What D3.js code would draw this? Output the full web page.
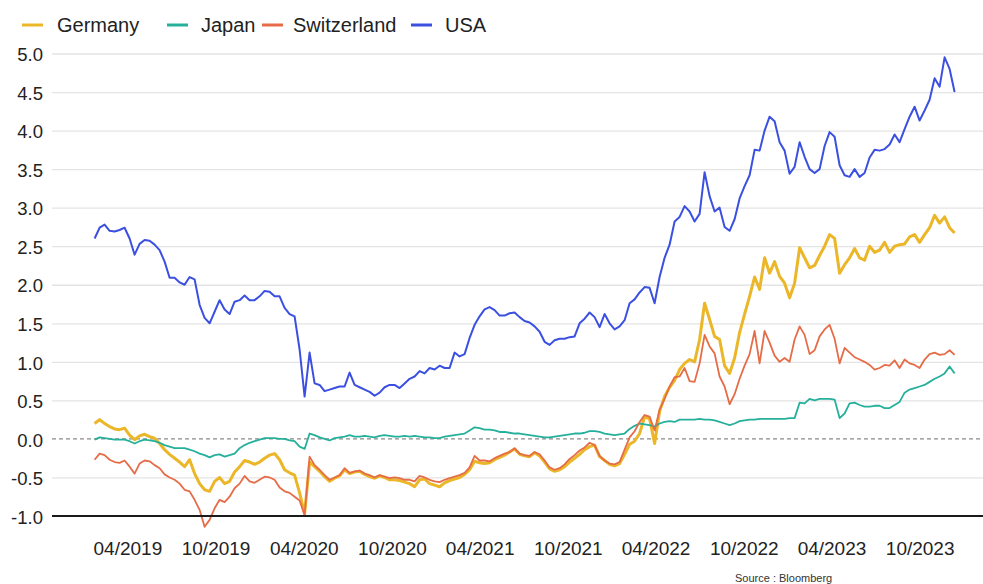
<!DOCTYPE html>
<html>
<head>
<meta charset="utf-8">
<script src="https://cdn.jsdelivr.net/npm/d3@7"></script>
<style>
  body { margin: 0; background: #ffffff; }
  #box1 { width: 983px; height: 584px; }
  svg { display: block; font-family: Arial, "Liberation Sans", sans-serif; }
</style>
</head>
<body>
<div id="box1"><svg id="box1_svg"></svg></div>
<script>
"use strict";

// 10y government bond yields (%), one reading about every 10 days
const start_date = "2019-01-23";
const step_days = 10.375;

const countries = ["Germany", "Japan", "Switzerland", "USA"];

const germany = [
  0.20, 0.25, 0.20, 0.16, 0.13, 0.12, 0.14, 0.05, -0.01, 0.04,
  0.06, 0.03, 0.01, -0.06, -0.14, -0.20, -0.25, -0.30, -0.36, -0.27,
  -0.45, -0.58, -0.66, -0.68, -0.55, -0.50, -0.58, -0.55, -0.43, -0.36,
  -0.28, -0.30, -0.33, -0.30, -0.25, -0.21, -0.19, -0.27, -0.40, -0.44,
  -0.47, -0.70, -0.97, -0.30, -0.36, -0.42, -0.49, -0.55, -0.51, -0.48,
  -0.40, -0.45, -0.43, -0.42, -0.46, -0.49, -0.51, -0.48, -0.50, -0.53,
  -0.53, -0.54, -0.56, -0.58, -0.62, -0.53, -0.52, -0.58, -0.60, -0.62,
  -0.57, -0.54, -0.52, -0.50, -0.46, -0.40, -0.29, -0.31, -0.32, -0.31,
  -0.27, -0.24, -0.21, -0.17, -0.13, -0.20, -0.22, -0.23, -0.18, -0.22,
  -0.30, -0.39, -0.42, -0.40, -0.36, -0.30, -0.25, -0.20, -0.14, -0.10,
  -0.08, -0.23, -0.28, -0.33, -0.35, -0.32, -0.20, -0.07, -0.03, 0.07,
  0.29, 0.26, -0.06, 0.36, 0.55, 0.67, 0.76, 0.90, 0.98, 1.03,
  1.00, 1.29, 1.76, 1.55, 1.33, 1.29, 0.95, 0.85, 1.05, 1.38,
  1.62, 1.85, 2.10, 1.94, 2.35, 2.15, 2.30, 2.11, 2.02, 1.83,
  2.02, 2.48, 2.35, 2.22, 2.25, 2.38, 2.50, 2.65, 2.60, 2.15,
  2.26, 2.35, 2.47, 2.35, 2.32, 2.50, 2.42, 2.45, 2.55, 2.42,
  2.50, 2.52, 2.53, 2.62, 2.65, 2.55, 2.65, 2.74, 2.90, 2.80,
  2.88, 2.74, 2.67
];

const japan = [
  -0.01, 0.02, 0.01, 0.00, -0.01, -0.01, -0.01, -0.03, -0.06, -0.03,
  -0.01, -0.02, -0.03, -0.05, -0.08, -0.10, -0.12, -0.12, -0.12, -0.14,
  -0.16, -0.19, -0.21, -0.24, -0.21, -0.20, -0.23, -0.21, -0.19, -0.12,
  -0.08, -0.05, -0.03, -0.01, 0.01, 0.01, 0.01, 0.00, 0.00, -0.02,
  -0.03, -0.10, -0.13, 0.07, 0.05, 0.02, 0.00, -0.02, 0.01, 0.02,
  0.03, 0.05, 0.03, 0.03, 0.04, 0.03, 0.02, 0.04, 0.05, 0.04,
  0.03, 0.03, 0.04, 0.03, 0.04, 0.03, 0.02, 0.02, 0.01, 0.01,
  0.03, 0.04, 0.05, 0.06, 0.07, 0.11, 0.15, 0.14, 0.12, 0.12,
  0.11, 0.09, 0.09, 0.08, 0.07, 0.07, 0.06, 0.05, 0.04, 0.03,
  0.02, 0.02, 0.03, 0.04, 0.05, 0.06, 0.07, 0.07, 0.08, 0.10,
  0.10, 0.09, 0.07, 0.06, 0.05, 0.06, 0.07, 0.13, 0.17, 0.20,
  0.19, 0.18, 0.16, 0.20, 0.22, 0.23, 0.22, 0.25, 0.25, 0.25,
  0.25, 0.26, 0.25, 0.25, 0.24, 0.22, 0.20, 0.18, 0.20, 0.23,
  0.24, 0.25, 0.25, 0.26, 0.26, 0.26, 0.26, 0.26, 0.26, 0.27,
  0.27, 0.47, 0.46, 0.52, 0.50, 0.52, 0.52, 0.52, 0.51, 0.27,
  0.33, 0.46, 0.47, 0.44, 0.42, 0.42, 0.43, 0.43, 0.40, 0.40,
  0.44, 0.48, 0.60, 0.64, 0.66, 0.68, 0.70, 0.74, 0.78, 0.81,
  0.85, 0.94, 0.85
];

const switzerland = [
  -0.27, -0.19, -0.21, -0.27, -0.30, -0.31, -0.28, -0.36, -0.45, -0.32,
  -0.28, -0.29, -0.34, -0.38, -0.46, -0.50, -0.53, -0.58, -0.66, -0.68,
  -0.79, -0.92, -1.14, -1.05, -0.90, -0.79, -0.82, -0.75, -0.64, -0.58,
  -0.48, -0.55, -0.57, -0.53, -0.49, -0.50, -0.53, -0.63, -0.68, -0.70,
  -0.75, -0.80, -0.99, -0.23, -0.34, -0.40, -0.47, -0.53, -0.50, -0.47,
  -0.38, -0.44, -0.42, -0.41, -0.45, -0.47, -0.50, -0.47, -0.49, -0.51,
  -0.50, -0.51, -0.53, -0.53, -0.55, -0.48, -0.50, -0.53, -0.55, -0.56,
  -0.53, -0.51, -0.49, -0.47, -0.44, -0.37, -0.22, -0.28, -0.28, -0.29,
  -0.25, -0.22, -0.19, -0.17, -0.12, -0.19, -0.21, -0.22, -0.17, -0.20,
  -0.28, -0.37, -0.40, -0.38, -0.33, -0.26, -0.21, -0.15, -0.11, -0.05,
  -0.08, -0.22, -0.28, -0.32, -0.33, -0.30, -0.14, 0.02, 0.10, 0.22,
  0.31, 0.29, 0.11, 0.38, 0.52, 0.68, 0.80, 0.81, 0.92, 0.75,
  0.74, 0.98, 1.35, 1.20, 1.11, 0.81, 0.68, 0.45, 0.58, 0.78,
  0.95, 1.10, 1.40, 0.98, 1.40, 1.25, 1.08, 1.00, 1.05, 1.00,
  1.29, 1.46, 1.35, 1.10, 1.15, 1.33, 1.42, 1.48, 1.30, 0.98,
  1.18, 1.12, 1.06, 1.03, 1.00, 0.96, 0.90, 0.92, 0.96, 0.95,
  1.02, 0.92, 1.03, 0.98, 0.96, 0.92, 1.03, 1.10, 1.12, 1.09,
  1.10, 1.15, 1.09
];

const usa = [
  2.60, 2.74, 2.78, 2.70, 2.69, 2.71, 2.74, 2.60, 2.39, 2.53,
  2.58, 2.57, 2.52, 2.45, 2.30, 2.09, 2.09, 2.03, 2.00, 2.10,
  2.07, 1.74, 1.57, 1.50, 1.65, 1.80, 1.68, 1.62, 1.78, 1.80,
  1.86, 1.80, 1.80, 1.85, 1.92, 1.91, 1.85, 1.85, 1.70, 1.62,
  1.59, 1.16, 0.55, 1.12, 0.72, 0.70, 0.62, 0.64, 0.66, 0.68,
  0.68, 0.86, 0.70, 0.67, 0.64, 0.61, 0.56, 0.60, 0.67, 0.70,
  0.70, 0.66, 0.72, 0.78, 0.81, 0.88, 0.85, 0.92, 0.90, 0.95,
  0.92, 0.92, 1.12, 1.07, 1.10, 1.31, 1.48, 1.59, 1.68, 1.71,
  1.67, 1.60, 1.60, 1.63, 1.64, 1.58, 1.53, 1.51, 1.46, 1.39,
  1.26, 1.22, 1.28, 1.30, 1.30, 1.32, 1.33, 1.50, 1.56, 1.64,
  1.58, 1.45, 1.62, 1.50, 1.42, 1.46, 1.54, 1.76, 1.81, 1.90,
  1.97, 1.96, 1.76, 2.10, 2.35, 2.52, 2.82, 2.88, 3.02, 2.95,
  2.82, 2.92, 3.46, 3.15, 2.95, 3.00, 2.75, 2.70, 2.85, 3.12,
  3.28, 3.42, 3.75, 3.74, 4.00, 4.18, 4.12, 3.85, 3.74, 3.44,
  3.53, 3.85, 3.66, 3.50, 3.45, 3.50, 3.80, 3.98, 3.92, 3.55,
  3.42, 3.40, 3.50, 3.40, 3.45, 3.65, 3.75, 3.74, 3.76, 3.82,
  3.95, 3.85, 4.02, 4.18, 4.31, 4.13, 4.26, 4.40, 4.68, 4.57,
  4.95, 4.80, 4.50
];

const y_ticks = [-1.0, -0.5, 0.0, 0.5, 1.0, 1.5, 2.0, 2.5, 3.0, 3.5, 4.0, 4.5, 5.0];
const x_ticks = ["04/2019", "10/2019", "04/2020", "10/2020", "04/2021",
  "10/2021", "04/2022", "10/2022", "04/2023", "10/2023"];

const mz_line_chart = () => {
  const p = {
    svg_id: 'box1_svg',
    width: 983,
    height: 584,

    // plot area
    left: 52,
    right: 983,
    top: 53.5,
    bottom: 516,
    x_from: 84,   // pixel of 01/2019
    x_to: 964,    // pixel of 01/2024

    colors: ['#ebb627', '#25b09b', '#e66c47', '#3b50e0'],
    widths: [3, 1.8, 1.8, 2],

    // legend swatch x and text x
    legend_x: [22, 167, 262, 411],
    legend_text_x: [57, 201, 293, 445],
    legend_y: 25,
  };

  const render = () => {
    const svg = d3.select('#' + p.svg_id)
      .attr('width', p.width)
      .attr('height', p.height);

    const t0 = d3.utcParse('%Y-%m-%d')(start_date);
    const series = [germany, japan, switzerland, usa].map((vals, k) => ({
      name: countries[k],
      values: vals.map((v, i) => ({ date: new Date(t0.getTime() + i * step_days * 864e5), value: v }))
    }));

    const x = d3.scaleUtc()
      .domain([new Date(Date.UTC(2019, 0, 1)), new Date(Date.UTC(2024, 0, 1))])
      .range([p.x_from, p.x_to]);

    const y = d3.scaleLinear()
      .domain([-1, 5])
      .range([p.bottom, p.top]);

    // grid + y labels
    const y_axis = svg.append('g')
      .attr('transform', `translate(${p.left},0)`)
      .call(d3.axisLeft(y)
        .tickValues(y_ticks)
        .tickFormat(d => d.toFixed(1))
        .tickSize(-(p.right - p.left))
        .tickPadding(9));
    y_axis.select('.domain').remove();
    y_axis.selectAll('.tick line')
      .attr('stroke', d => (d === 0 || d === -1) ? 'none' : '#e4e4e4')
      .attr('stroke-width', 1.3);
    y_axis.selectAll('.tick text')
      .attr('font-size', 18.5)
      .attr('fill', '#222')
      .attr('dy', '0.39em');

    // zero line
    svg.append('line')
      .attr('x1', p.left).attr('x2', p.right)
      .attr('y1', y(0)).attr('y2', y(0))
      .attr('stroke', '#8a8a8a')
      .attr('stroke-width', 1.2)
      .attr('stroke-dasharray', '4,3');

    // x labels
    const parse_tick = d3.utcParse('%m/%Y');
    const x_axis = svg.append('g')
      .attr('transform', `translate(0,${p.bottom})`)
      .call(d3.axisBottom(x)
        .tickValues(x_ticks.map(parse_tick))
        .tickFormat(d3.utcFormat('%m/%Y'))
        .tickSize(0)
        .tickPadding(25.5));
    x_axis.select('.domain').remove();
    x_axis.selectAll('.tick text')
      .attr('font-size', 19)
      .attr('fill', '#222');

    // lines
    const line = d3.line()
      .x(d => x(d.date))
      .y(d => y(d.value));

    series.forEach(function (s, k) {
      svg.append('path')
        .datum(s.values)
        .attr('fill', 'none')
        .attr('stroke', p.colors[k])
        .attr('stroke-width', p.widths[k])
        .attr('stroke-linejoin', 'round')
        .attr('d', line);
    });

    // base axis line at -1
    svg.append('line')
      .attr('x1', p.left).attr('x2', p.right)
      .attr('y1', y(-1)).attr('y2', y(-1))
      .attr('stroke', '#1a1a1a')
      .attr('stroke-width', 2);

    // legend
    countries.forEach(function (c, k) {
      svg.append('line')
        .attr('x1', p.legend_x[k]).attr('x2', p.legend_x[k] + 21)
        .attr('y1', p.legend_y).attr('y2', p.legend_y)
        .attr('stroke', p.colors[k])
        .attr('stroke-width', 3);
      svg.append('text')
        .text(c)
        .attr('x', p.legend_text_x[k])
        .attr('y', 32.3)
        .attr('font-size', 20)
        .attr('fill', '#222');
    });

    svg.append('text')
      .text('Source : Bloomberg')
      .attr('x', 735)
      .attr('y', 582)
      .attr('font-size', 11)
      .attr('fill', '#333');
  };

  return { render };
};

mz_line_chart().render();
</script>
</body>
</html>
